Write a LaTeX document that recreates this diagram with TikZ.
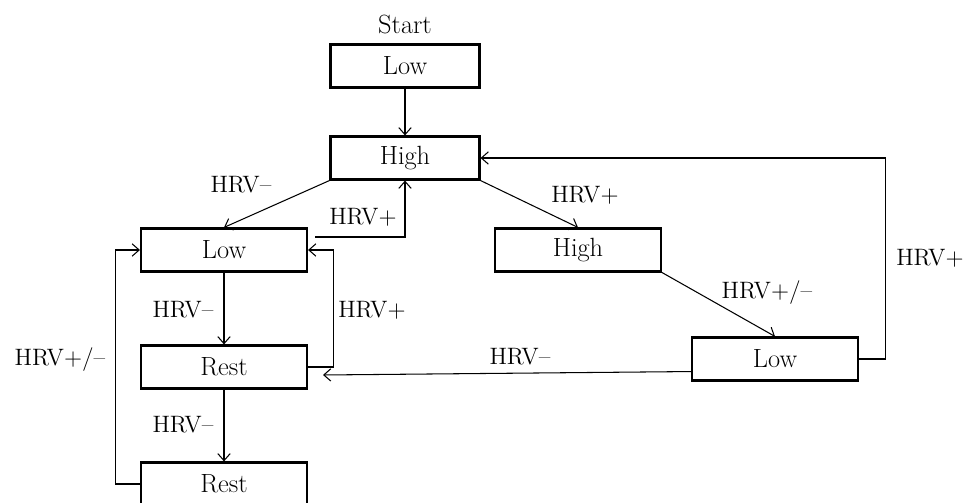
\documentclass[tikz,border=0pt]{standalone}
\usetikzlibrary{arrows.meta}

\tikzset{
  state/.style={draw, line width=1.2pt, minimum width=3.32cm, minimum height=0.86cm, inner sep=0pt, font=\fontsize{15}{17}\selectfont},
  lab/.style={font=\fontsize{13.5}{15}\selectfont},
  edge/.style={-{Straight Barb[length=4pt,width=7pt]}, line width=0.6pt}
}

\begin{document}
\begin{tikzpicture}[x=0.02cm, y=-0.02cm]
\useasboundingbox (0,0) rectangle (968,503);
% states
\node [state, minimum width=2.98cm] (s0) at (405,66) {Low};
\node [state, minimum width=2.98cm] (hi) at (405,158) {High};
\node [state] (lowL) at (224,250) {Low};
\node [state] (restA) at (224,367) {Rest};
\node [state] (restB) at (224,484) {Rest};
\node [state] (hiR) at (578,250) {High};
\node [state] (lowR) at (775,359) {Low};
\node [font=\fontsize{15}{17}\selectfont] (start) at (405,25) {Start};
% free ends
\coordinate (lowLout) at (315,237);
\coordinate (restAin) at (323,375);
% transitions
\draw [edge] (s0) -- (hi);
\draw [edge] (hi.south west) -- (lowL.north);
\draw [edge] (lowLout) -| (hi.south);
\draw [edge] (lowL) -- (restA);
\draw [edge] (restA.east) -- ++(25,0) |- (lowL.east);
\draw [edge] (restA) -- (restB);
\draw [edge] (restB.west) -- ++(-24,0) |- (lowL.west);
\draw [edge] (hi.south east) -- (hiR.north);
\draw [edge] (hiR.south east) -- (lowR.north);
\draw [edge] ([yshift=0.2cm]lowR.south west) -- (restAin);
\draw [edge] (lowR.east) -- ++(26,0) |- (hi.east);
% labels
\node [lab] (l1) at (241,185) {HRV--};
\node [lab] (l2) at (363,217) {HRV+};
\node [lab] (l3) at (183,310) {HRV--};
\node [lab] (l4) at (372,310) {HRV+};
\node [lab] (l5) at (183,425) {HRV--};
\node [lab] (l6) at (60,360) {HRV+/--};
\node [lab] (l7) at (585,195) {HRV+};
\node [lab] (l8) at (767,293) {HRV+/--};
\node [lab] (l9) at (520,357) {HRV--};
\node [lab] (l10) at (930,258) {HRV+};
\end{tikzpicture}
\end{document}
